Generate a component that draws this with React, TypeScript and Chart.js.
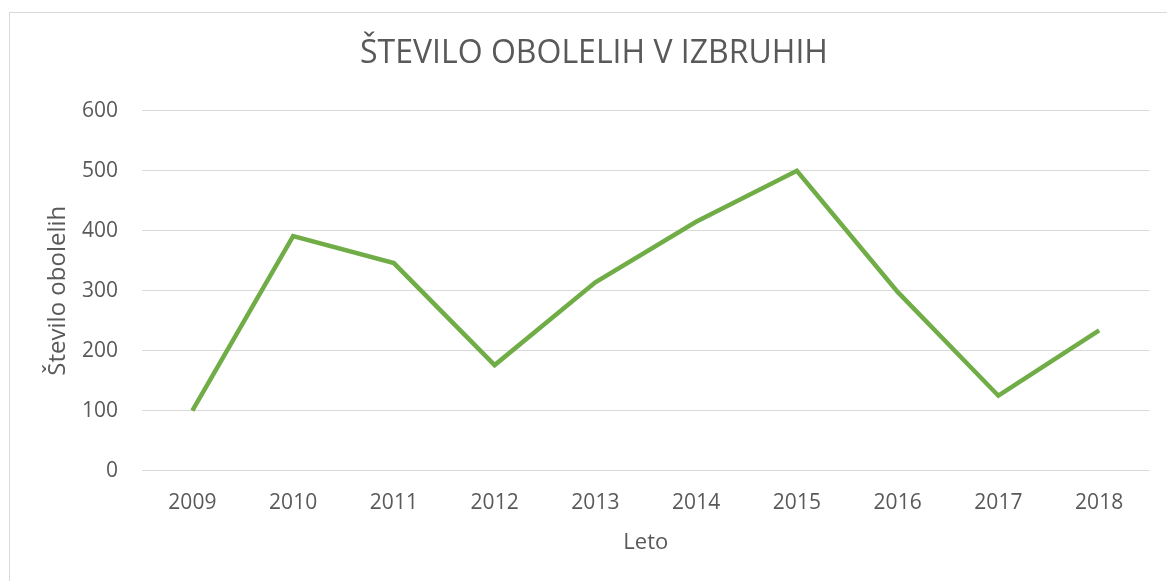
import React, { useEffect, useRef } from "react";
import { Chart, registerables } from "chart.js";

Chart.register(...registerables);

const categories = ["2009", "2010", "2011", "2012", "2013", "2014", "2015", "2016", "2017", "2018"];
const values = [100, 391, 346, 176, 314, 415, 500, 298, 125, 234];
const yTicksMin = 0;
const yTicksMax = 600;
const yTicksStep = 100;
const titleText = "ŠTEVILO OBOLELIH V IZBRUHIH";
const yTitle = "Število obolelih";
const xTitle = "Leto";

const FONT = "'Open Sans', sans-serif";
const GREY = "#595959";

export default function App() {
  const ref = useRef<HTMLCanvasElement | null>(null);
  useEffect(() => {
    if (!ref.current) return;
    const chart = new Chart(ref.current, {
      type: "line",
      data: {
        labels: categories,
        datasets: [
          {
            data: values,
            borderColor: "#70ad47",
            backgroundColor: "#70ad47",
            borderWidth: 4.5,
            pointRadius: 0,
            tension: 0,
            borderJoinStyle: "miter",
          },
        ],
      },
      options: {
        responsive: false,
        animation: false,
        layout: { padding: { top: 0, right: 17.5, bottom: 0, left: 28.5 } },
        plugins: {
          legend: { display: false },
          tooltip: { enabled: false },
          title: {
            display: true,
            text: titleText,
            color: GREY,
            font: { family: FONT, size: 32, weight: "normal" },
            padding: { top: 21.8, bottom: 37.5 },
          },
        },
        scales: {
          x: {
            offset: true,
            grid: { display: false, drawTicks: false },
            border: { display: false },
            ticks: { color: GREY, font: { family: FONT, size: 21 }, padding: 20 },
            title: {
              display: true,
              text: xTitle,
              color: GREY,
              font: { family: FONT, size: 22 },
              padding: { top: 0, bottom: 16.8 },
            },
            afterFit: (scale: any) => {
              scale.height = 102.3;
            },
          },
          y: {
            min: yTicksMin,
            max: yTicksMax,
            ticks: { stepSize: yTicksStep, color: GREY, font: { family: FONT, size: 21 }, padding: 24 },
            grid: { color: "#d9d9d9", lineWidth: 1, drawTicks: false },
            border: { display: false },
            title: {
              display: true,
              text: yTitle,
              color: GREY,
              font: { family: FONT, size: 24 },
              padding: { top: 5.1, bottom: 0 },
            },
            afterFit: (scale: any) => {
              scale.width = 103.5;
            },
          },
        },
      },
    });
    return () => chart.destroy();
  }, []);
  return (
    <div
      style={{
        position: "absolute",
        left: 9,
        top: 12,
        width: 1158,
        height: 569,
        borderTop: "1px solid #d9d9d9",
        borderLeft: "1px solid #d9d9d9",
        boxSizing: "border-box",
        background: "#fff",
        overflow: "hidden",
      }}
    >
      <canvas ref={ref} width={1157} height={560} style={{ display: "block" }} />
    </div>
  );
}
